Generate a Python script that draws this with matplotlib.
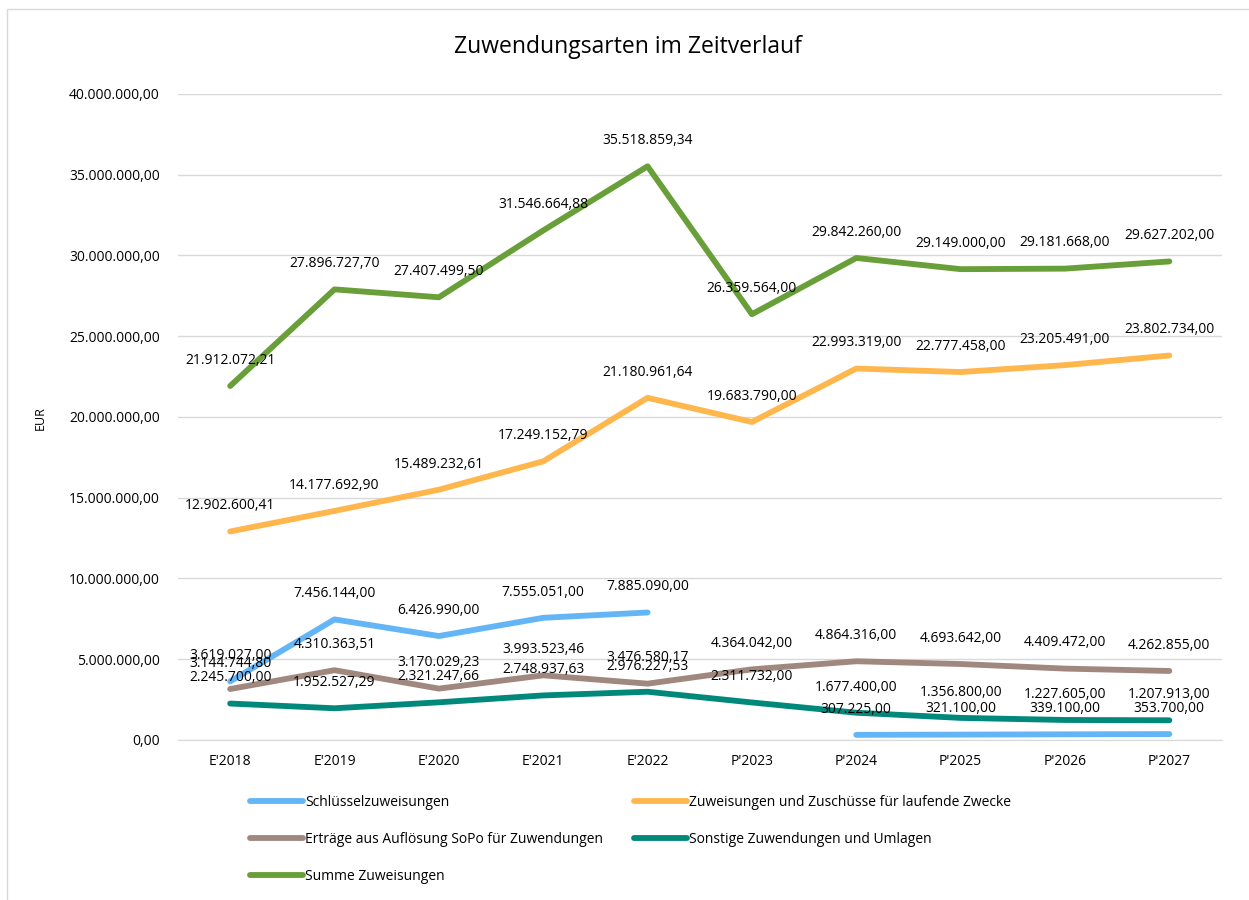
import numpy as np
import matplotlib
matplotlib.use("Agg")
import matplotlib.pyplot as plt
from matplotlib.patches import Rectangle

plt.rcParams["font.family"] = ["Open Sans", "DejaVu Sans"]

# Years (E = Ergebnis, P = Plan)
years = ["E'2018", "E'2019", "E'2020", "E'2021", "E'2022",
         "P'2023", "P'2024", "P'2025", "P'2026", "P'2027"]

schluessel = [3619027.00, 7456144.00, 6426990.00, 7555051.00, 7885090.00,
              np.nan, 307225.00, 321100.00, 339100.00, 353700.00]
laufende = [12902600.41, 14177692.90, 15489232.61, 17249152.79, 21180961.64,
            19683790.00, 22993319.00, 22777458.00, 23205491.00, 23802734.00]
sopo = [3144744.80, 4310363.51, 3170029.23, 3993523.46, 3476580.17,
        4364042.00, 4864316.00, 4693642.00, 4409472.00, 4262855.00]
sonstige = [2245700.00, 1952527.29, 2321247.66, 2748937.63, 2976227.53,
            2311732.00, 1677400.00, 1356800.00, 1227605.00, 1207913.00]
summe = [21912072.21, 27896727.70, 27407499.50, 31546664.88, 35518859.34,
         26359564.00, 29842260.00, 29149000.00, 29181668.00, 29627202.00]

series = [
    ("Schlüsselzuweisungen", schluessel, "#64B5F6"),
    ("Zuweisungen und Zuschüsse für laufende Zwecke", laufende, "#FFB74D"),
    ("Erträge aus Auflösung SoPo für Zuwendungen", sopo, "#A1887F"),
    ("Sonstige Zuwendungen und Umlagen", sonstige, "#00897B"),
    ("Summe Zuweisungen", summe, "#689F38"),
]


def de_fmt(v):
    # German number format: 1.234.567,89
    s = f"{v:,.2f}"
    return s.replace(",", "X").replace(".", ",").replace("X", ".")


fig = plt.figure(figsize=(12.49, 9), dpi=100)
ax = fig.add_axes([0.1425, 0.178, 0.8355, 0.7176])

# thin frame around the chart area
fig.patches.append(Rectangle((7 / 1249, -0.1), 1.2, 1.1 - 9 / 900, transform=fig.transFigure,
                             fill=False, edgecolor="#D9D9D9", linewidth=1))

x = np.arange(len(years))
handles = {}
for name, vals, color in series:
    line, = ax.plot(x, vals, color=color, linewidth=4.2, solid_capstyle="round",
                    solid_joinstyle="round", label=name, zorder=3)
    handles[name] = line
    for xi, v in zip(x, vals):
        if np.isnan(v):
            continue
        ax.annotate(de_fmt(v), (xi, v), xytext=(0, 18.5), textcoords="offset points",
                    ha="center", va="center", fontsize=10, color="#000000", zorder=4)

ax.set_xlim(-0.5, len(years) - 0.5)
ax.set_ylim(0, 40000000)
ax.set_yticks(np.arange(0, 40000001, 5000000))
ax.set_yticklabels([de_fmt(t) for t in ax.get_yticks()])
ax.set_xticks(x)
ax.set_xticklabels(years)
ax.tick_params(axis="both", length=0, labelsize=10, colors="#000000")
ax.tick_params(axis="y", pad=13)
ax.tick_params(axis="x", pad=10)
ax.grid(axis="y", color="#D9D9D9", linewidth=1)
ax.set_axisbelow(True)
for side in ["top", "right", "left"]:
    ax.spines[side].set_visible(False)
ax.spines["bottom"].set_color("#D9D9D9")

fig.text(40 / 1249, 0.535, "EUR", rotation=90, ha="center", va="center", fontsize=9)
fig.text(0.503, 0.948, "Zuwendungsarten im Zeitverlauf", ha="center", va="center", fontsize=16.5)

order = ["Schlüsselzuweisungen", "Erträge aus Auflösung SoPo für Zuwendungen", "Summe Zuweisungen",
         "Zuweisungen und Zuschüsse für laufende Zwecke", "Sonstige Zuwendungen und Umlagen"]
fig.legend([handles[n] for n in order], order, ncol=2, loc="upper left",
           bbox_to_anchor=(0.2, 0.117), frameon=False, fontsize=10,
           handlelength=3.8, handletextpad=0.2, labelspacing=1.6, columnspacing=2.2,
           borderaxespad=0, borderpad=0)

fig.savefig("out.png", dpi=100)
